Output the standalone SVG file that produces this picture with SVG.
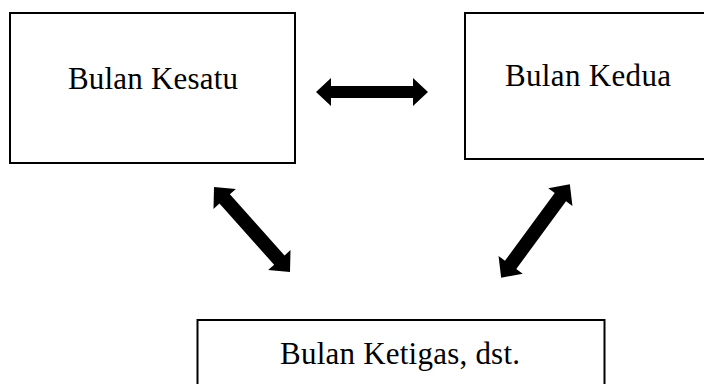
<svg xmlns="http://www.w3.org/2000/svg" width="704" height="384" viewBox="0 0 704 384">
<style>
.box{fill:#fff;stroke:#000;stroke-width:2}
.lbl{font-family:"Liberation Serif","Times New Roman",serif;font-size:31px;fill:#000}
.arr{fill:#000}
</style>
<rect width="704" height="384" fill="#fff"/>
<g id="node-kesatu">
<rect class="box" x="10" y="13" width="285" height="150"/>
<text class="lbl" x="68" y="89" textLength="170">Bulan Kesatu</text>
</g>
<g id="node-kedua">
<rect class="box" x="465" y="13" width="260" height="146"/>
<text class="lbl" x="505" y="86" textLength="166">Bulan Kedua</text>
</g>
<g id="node-ketiga">
<rect class="box" x="197.5" y="320" width="407" height="80"/>
<text class="lbl" x="280" y="364" textLength="240">Bulan Ketigas, dst.</text>
</g>
<g id="connectors" class="arr">
<path d="M316,92 L331,78 L331,86 L413,86 L413,78 L428,92 L413,106 L413,98 L331,98 L331,106 Z"/>
<path d="M-57,0 L-41,-15 L-41,-7 L41,-7 L41,-15 L57,0 L41,15 L41,7 L-41,7 L-41,15 Z" transform="translate(252,229.5) rotate(48.2)"/>
<path d="M-58,0 L-42,-15 L-42,-7 L42,-7 L42,-15 L58,0 L42,15 L42,7 L-42,7 L-42,15 Z" transform="translate(535.5,231) rotate(126.3)"/>
</g>
</svg>
